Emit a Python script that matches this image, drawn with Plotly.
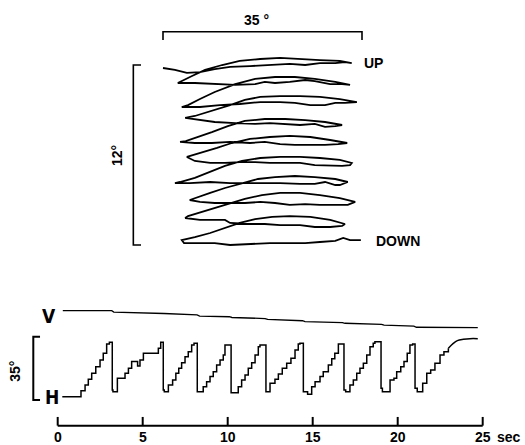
import plotly.graph_objects as go

# ---------------- data ----------------
# Top panel: eye-position scan path (horizontal deg, vertical deg)
scan_x_deg = [
    0.0, 2.1, 4.2, 6.5, 9.1, 11.8, 15.3, 18.8, 22.3, 25.0, 27.6, 30.3, 32.0, 33.2,
    31.1, 27.6, 24.1, 20.6, 17.1, 13.5, 10.4, 7.4, 5.1, 3.5, 2.6,
    5.6, 9.1, 12.7, 16.2, 17.9, 19.7, 22.3, 25.0, 26.7, 29.4, 31.5, 32.9,
    30.3, 26.7, 23.2, 19.7, 16.2, 12.7, 9.1, 6.5, 4.4, 3.3,
    6.5, 10.0, 13.5, 17.1, 20.6, 23.2, 25.9, 28.5, 30.3, 32.0, 34.1,
    31.1, 27.6, 24.1, 20.6, 17.1, 14.4, 11.8, 8.6, 5.6, 3.9,
    6.5, 9.1, 12.7, 16.2, 18.8, 21.5, 24.1, 26.7, 28.5, 30.3, 31.5,
    28.5, 25.0, 21.5, 17.9, 14.4, 11.4, 8.6, 6.2, 4.0, 3.0,
    5.6, 8.6, 11.8, 15.3, 17.9, 20.6, 23.2, 25.9, 28.5, 30.8, 32.4,
    29.4, 25.9, 22.3, 18.8, 15.3, 12.1, 9.5, 7.0, 5.1, 4.2,
    5.6, 8.3, 10.9, 13.5, 16.2, 18.8, 21.5, 24.1, 26.7, 29.4, 31.5, 32.9, 33.2,
    31.1, 27.6, 24.1, 20.6, 17.1, 13.9, 10.9, 8.3, 5.6, 3.0, 2.1,
    4.7, 8.3, 11.8, 15.3, 17.9, 20.6, 24.1, 26.7, 28.5, 30.3, 31.1, 32.5,
    30.3, 26.7, 23.2, 19.7, 16.7, 13.9, 10.9, 8.3, 6.2, 4.7,
    6.5, 9.1, 11.8, 14.4, 17.1, 19.7, 22.3, 25.0, 27.6, 30.3, 32.5, 33.8,
    31.1, 27.6, 24.1, 20.6, 17.4, 14.4, 11.4, 8.6, 6.0, 4.4, 3.9,
    6.5, 9.1, 10.9, 11.8, 15.3, 17.9, 20.6, 24.1, 26.7, 29.4, 31.5, 32.0,
    29.4, 25.9, 22.3, 19.2, 16.2, 13.5, 10.9, 8.3, 5.6, 3.9, 3.3,
    3.7, 6.5, 9.1, 11.8, 15.3, 18.8, 22.3, 25.0, 27.6, 30.3, 31.7, 32.9, 34.1, 34.8,
]
scan_y_deg = [
    11.8, 11.67, 11.47, 11.53, 11.73, 11.87, 11.93, 12.0, 12.07, 12.0, 12.13, 12.13, 12.2, 12.13,
    12.27, 12.33, 12.4, 12.47, 12.4, 12.27, 12.0, 11.67, 11.27, 11.0, 10.8,
    10.8, 10.73, 10.67, 10.73, 10.87, 10.8, 10.87, 11.0, 10.93, 10.73, 10.73, 10.67,
    10.87, 11.07, 11.2, 11.2, 11.07, 10.73, 10.2, 9.73, 9.33, 9.2,
    9.2, 9.33, 9.4, 9.53, 9.53, 9.47, 9.33, 9.33, 9.47, 9.47, 9.53,
    9.73, 9.87, 9.93, 9.93, 9.87, 9.67, 9.33, 8.93, 8.6, 8.47,
    8.33, 8.2, 8.13, 8.07, 8.13, 8.07, 8.0, 8.07, 7.87, 7.93, 8.0,
    8.2, 8.33, 8.4, 8.4, 8.27, 7.93, 7.53, 7.2, 6.93, 6.87,
    6.8, 6.8, 6.87, 6.8, 6.87, 6.73, 6.67, 6.67, 6.67, 6.73, 6.8,
    7.0, 7.2, 7.27, 7.2, 7.07, 6.8, 6.47, 6.2, 6.0, 5.87,
    5.6, 5.47, 5.47, 5.53, 5.53, 5.47, 5.47, 5.47, 5.33, 5.27, 5.27, 5.33, 5.47,
    5.67, 5.8, 5.87, 5.87, 5.8, 5.6, 5.27, 4.87, 4.47, 4.2, 4.13,
    4.13, 4.2, 4.13, 4.13, 4.13, 4.13, 4.07, 4.07, 4.2, 4.0, 4.0, 4.2,
    4.4, 4.53, 4.6, 4.53, 4.4, 4.13, 3.8, 3.47, 3.2, 3.0,
    2.87, 2.8, 2.8, 2.8, 2.87, 2.8, 2.67, 2.73, 2.67, 2.67, 2.67, 2.87,
    3.13, 3.33, 3.47, 3.47, 3.33, 3.07, 2.73, 2.4, 2.13, 1.93, 1.8,
    1.67, 1.67, 1.67, 1.47, 1.4, 1.4, 1.33, 1.33, 1.2, 1.2, 1.27, 1.4,
    1.67, 1.87, 1.93, 1.87, 1.73, 1.47, 1.13, 0.8, 0.53, 0.4, 0.33,
    0.13, 0.13, 0.13, 0.0, 0.07, 0.13, 0.13, 0.13, 0.2, 0.27, 0.47, 0.33, 0.33, 0.33,
]

# Bottom panel: horizontal eye position H (deg) vs time (s), step-wise record
h_time = [
    0.27, 1.37, 1.61, 1.80, 2.00, 2.24, 2.49, 2.68, 2.88, 3.04, 3.21, 3.25,
    3.51, 3.96, 4.16, 4.35, 4.70, 4.84, 5.04, 5.92, 6.06, 6.21, 6.27,
    6.51, 6.76, 6.95, 7.12, 7.29, 7.49, 7.68, 7.88, 8.02, 8.21,
    8.56, 8.76, 8.96, 9.15, 9.35, 9.55, 9.74, 9.84, 10.20,
    10.62, 10.82, 11.02, 11.21, 11.41, 11.61, 11.80, 11.90, 12.25,
    12.49, 12.78, 12.98, 13.21, 13.47, 13.72, 13.96, 14.15, 14.25, 14.45, 14.70,
    14.94, 15.14, 15.43, 15.62, 15.92, 16.12, 16.30, 16.51, 16.84, 16.94,
    17.19, 17.39, 17.59, 17.78, 17.98, 18.18, 18.37, 18.56, 18.66, 19.02, 19.10,
    19.55, 19.78, 19.94, 20.18, 20.37, 20.56, 20.72, 20.88, 21.02, 21.15,
    21.47, 21.71, 21.94, 22.19, 22.49, 22.72, 22.98,
]
h_deg = [
    0.0, 3.3, 6.5, 9.6, 12.9, 16.6, 20.3, 24.0, 29.1, 30.1, 3.7, 2.76,
    10.2, 12.9, 15.7, 19.4, 17.0, 20.3, 24.0, 26.8, 30.1, 3.7, 2.76,
    6.5, 9.2, 12.9, 15.7, 18.8, 22.1, 24.9, 28.6, 29.5, 2.76,
    5.5, 8.3, 11.1, 13.8, 17.5, 20.3, 23.1, 28.6, 2.2,
    5.5, 9.2, 12.0, 15.7, 18.8, 23.1, 27.6, 28.6, 2.76,
    7.4, 9.6, 12.6, 15.7, 18.5, 21.2, 25.8, 29.1, 29.5, 2.76, 1.3,
    5.5, 8.3, 11.1, 13.8, 17.5, 21.0, 24.0, 29.1, 3.7, 2.76,
    6.5, 9.2, 12.9, 15.7, 18.5, 23.1, 27.6, 29.5, 30.4, 4.6, 2.76,
    9.2, 10.2, 13.8, 16.6, 19.4, 24.0, 28.6, 29.1, 4.6, 2.76,
    7.4, 12.9, 14.8, 18.5, 23.1, 24.9, 26.8,
]
h_tail_time = [22.98, 23.27, 23.51, 23.86, 24.25, 24.71]
h_tail_deg = [26.8, 29.5, 31.0, 31.7, 32.1, 32.1]

# Vertical eye position V (deg, relative to start) vs time (s)
v_time = [0.30, 3.18, 3.30, 6.10, 6.25, 8.20, 8.35, 10.10, 10.25, 12.20, 12.35,
          14.40, 14.55, 16.75, 16.90, 19.05, 19.20, 20.95, 21.10, 24.71]
v_deg = [0.0, 0.0, -0.8, -1.2, -1.6, -2.4, -3.0, -3.4, -3.8, -4.4, -4.9,
         -5.6, -6.1, -6.6, -7.0, -7.6, -8.0, -8.6, -9.2, -9.4]

time_ticks = [0, 5, 10, 15, 20, 25]
time_tick_labels = ["0", "5", "10", "15", "20", "25"]
time_unit = "sec"
scan_h_scale_deg = 35
scan_v_scale_deg = 12
record_scale_deg = 35

# ---------------- layout constants ----------------
V_OFFSET = 47.6          # vertical display offset of V record above H
INK = "black"
TXT_FONT = dict(family="Liberation Sans, Arial, sans-serif", size=14, color=INK, weight="bold")
NARROW_FONT = dict(family="Liberation Sans Narrow, DejaVu Sans Condensed, sans-serif",
                   size=19, color=INK, weight="bold")

fig = go.Figure()

fig.add_trace(go.Scatter(x=scan_x_deg, y=scan_y_deg, mode="lines",
                         line=dict(color=INK, width=1.8), xaxis="x", yaxis="y",
                         hoverinfo="skip"))
fig.add_trace(go.Scatter(x=h_time, y=h_deg, mode="lines",
                         line=dict(color=INK, width=1.5, shape="hv"),
                         xaxis="x2", yaxis="y2", hoverinfo="skip"))
fig.add_trace(go.Scatter(x=h_tail_time, y=h_tail_deg, mode="lines",
                         line=dict(color=INK, width=1.5, shape="spline"),
                         xaxis="x2", yaxis="y2", hoverinfo="skip"))
fig.add_trace(go.Scatter(x=v_time, y=[v + V_OFFSET for v in v_deg], mode="lines",
                         line=dict(color=INK, width=1.3),
                         xaxis="x2", yaxis="y2", hoverinfo="skip"))

shapes = []
# top scale bars
hb_y, hb_tick = 14.22, 13.67
shapes.append(dict(type="path", xref="x", yref="y",
                   path=f"M 0,{hb_tick} L 0,{hb_y} L {scan_h_scale_deg},{hb_y} L {scan_h_scale_deg},{hb_tick}",
                   line=dict(color=INK, width=1.6)))
vb_x, vb_tick = -5.22, -3.87
shapes.append(dict(type="path", xref="x", yref="y",
                   path=f"M {vb_tick},{scan_v_scale_deg} L {vb_x},{scan_v_scale_deg} L {vb_x},0 L {vb_tick},0",
                   line=dict(color=INK, width=1.6)))
# bottom scale bar
rb_x, rb_tick, rb_low = -1.435, -1.04, -1.8
shapes.append(dict(type="path", xref="x2", yref="y2",
                   path=f"M {rb_tick},{rb_low + record_scale_deg} L {rb_x},{rb_low + record_scale_deg} "
                        f"L {rb_x},{rb_low} L {rb_tick},{rb_low}",
                   line=dict(color=INK, width=2)))
# time axis
ax_y, tick_top = -16.0, -11.2
shapes.append(dict(type="line", xref="x2", yref="y2", x0=time_ticks[0], x1=time_ticks[-1],
                   y0=ax_y, y1=ax_y, line=dict(color=INK, width=2)))
for t in time_ticks:
    shapes.append(dict(type="line", xref="x2", yref="y2", x0=t, x1=t, y0=ax_y, y1=tick_top,
                       line=dict(color=INK, width=2)))

annotations = [
    dict(x=16.4, y=15.0, xref="x", yref="y", text=f"{scan_h_scale_deg} °", showarrow=False, font=TXT_FONT),
    dict(x=-8.1, y=6.0, xref="x", yref="y", text=f"{scan_v_scale_deg}°", showarrow=False,
         textangle=-90, font=TXT_FONT),
    dict(x=37.0, y=12.13, xref="x", yref="y", text="UP", showarrow=False, font=TXT_FONT),
    dict(x=41.4, y=0.27, xref="x", yref="y", text="DOWN", showarrow=False, font=TXT_FONT),
    dict(x=-0.51, y=44.6, xref="x2", yref="y2", text="V", showarrow=False, font=NARROW_FONT),
    dict(x=-0.35, y=0.0, xref="x2", yref="y2", text="H", showarrow=False, font=NARROW_FONT),
    dict(x=-2.51, y=13.8, xref="x2", yref="y2", text=f"{record_scale_deg}°", showarrow=False,
         textangle=-90, font=TXT_FONT),
    dict(x=26.55, y=-22.3, xref="x2", yref="y2", text=time_unit, showarrow=False,
         font=dict(TXT_FONT, size=14)),
]
for t, lab in zip(time_ticks, time_tick_labels):
    annotations.append(dict(x=t, y=-22.3, xref="x2", yref="y2", text=lab, showarrow=False,
                            font=dict(TXT_FONT, size=14)))

hidden = dict(visible=False, showgrid=False, zeroline=False, fixedrange=True, domain=[0, 1])
fig.update_layout(
    width=525, height=445,
    margin=dict(l=0, r=0, t=0, b=0),
    paper_bgcolor="white", plot_bgcolor="rgba(0,0,0,0)",
    showlegend=False,
    xaxis=dict(hidden, range=[-28.67, 63.67], anchor="y"),
    yaxis=dict(hidden, range=[-13.333, 16.333], anchor="x"),
    xaxis2=dict(hidden, range=[-3.394, 27.488], anchor="y2"),
    yaxis2=dict(hidden, range=[-26.71, 219.34], anchor="x2"),
    shapes=shapes,
    annotations=annotations,
)

fig.write_html("out.html")
